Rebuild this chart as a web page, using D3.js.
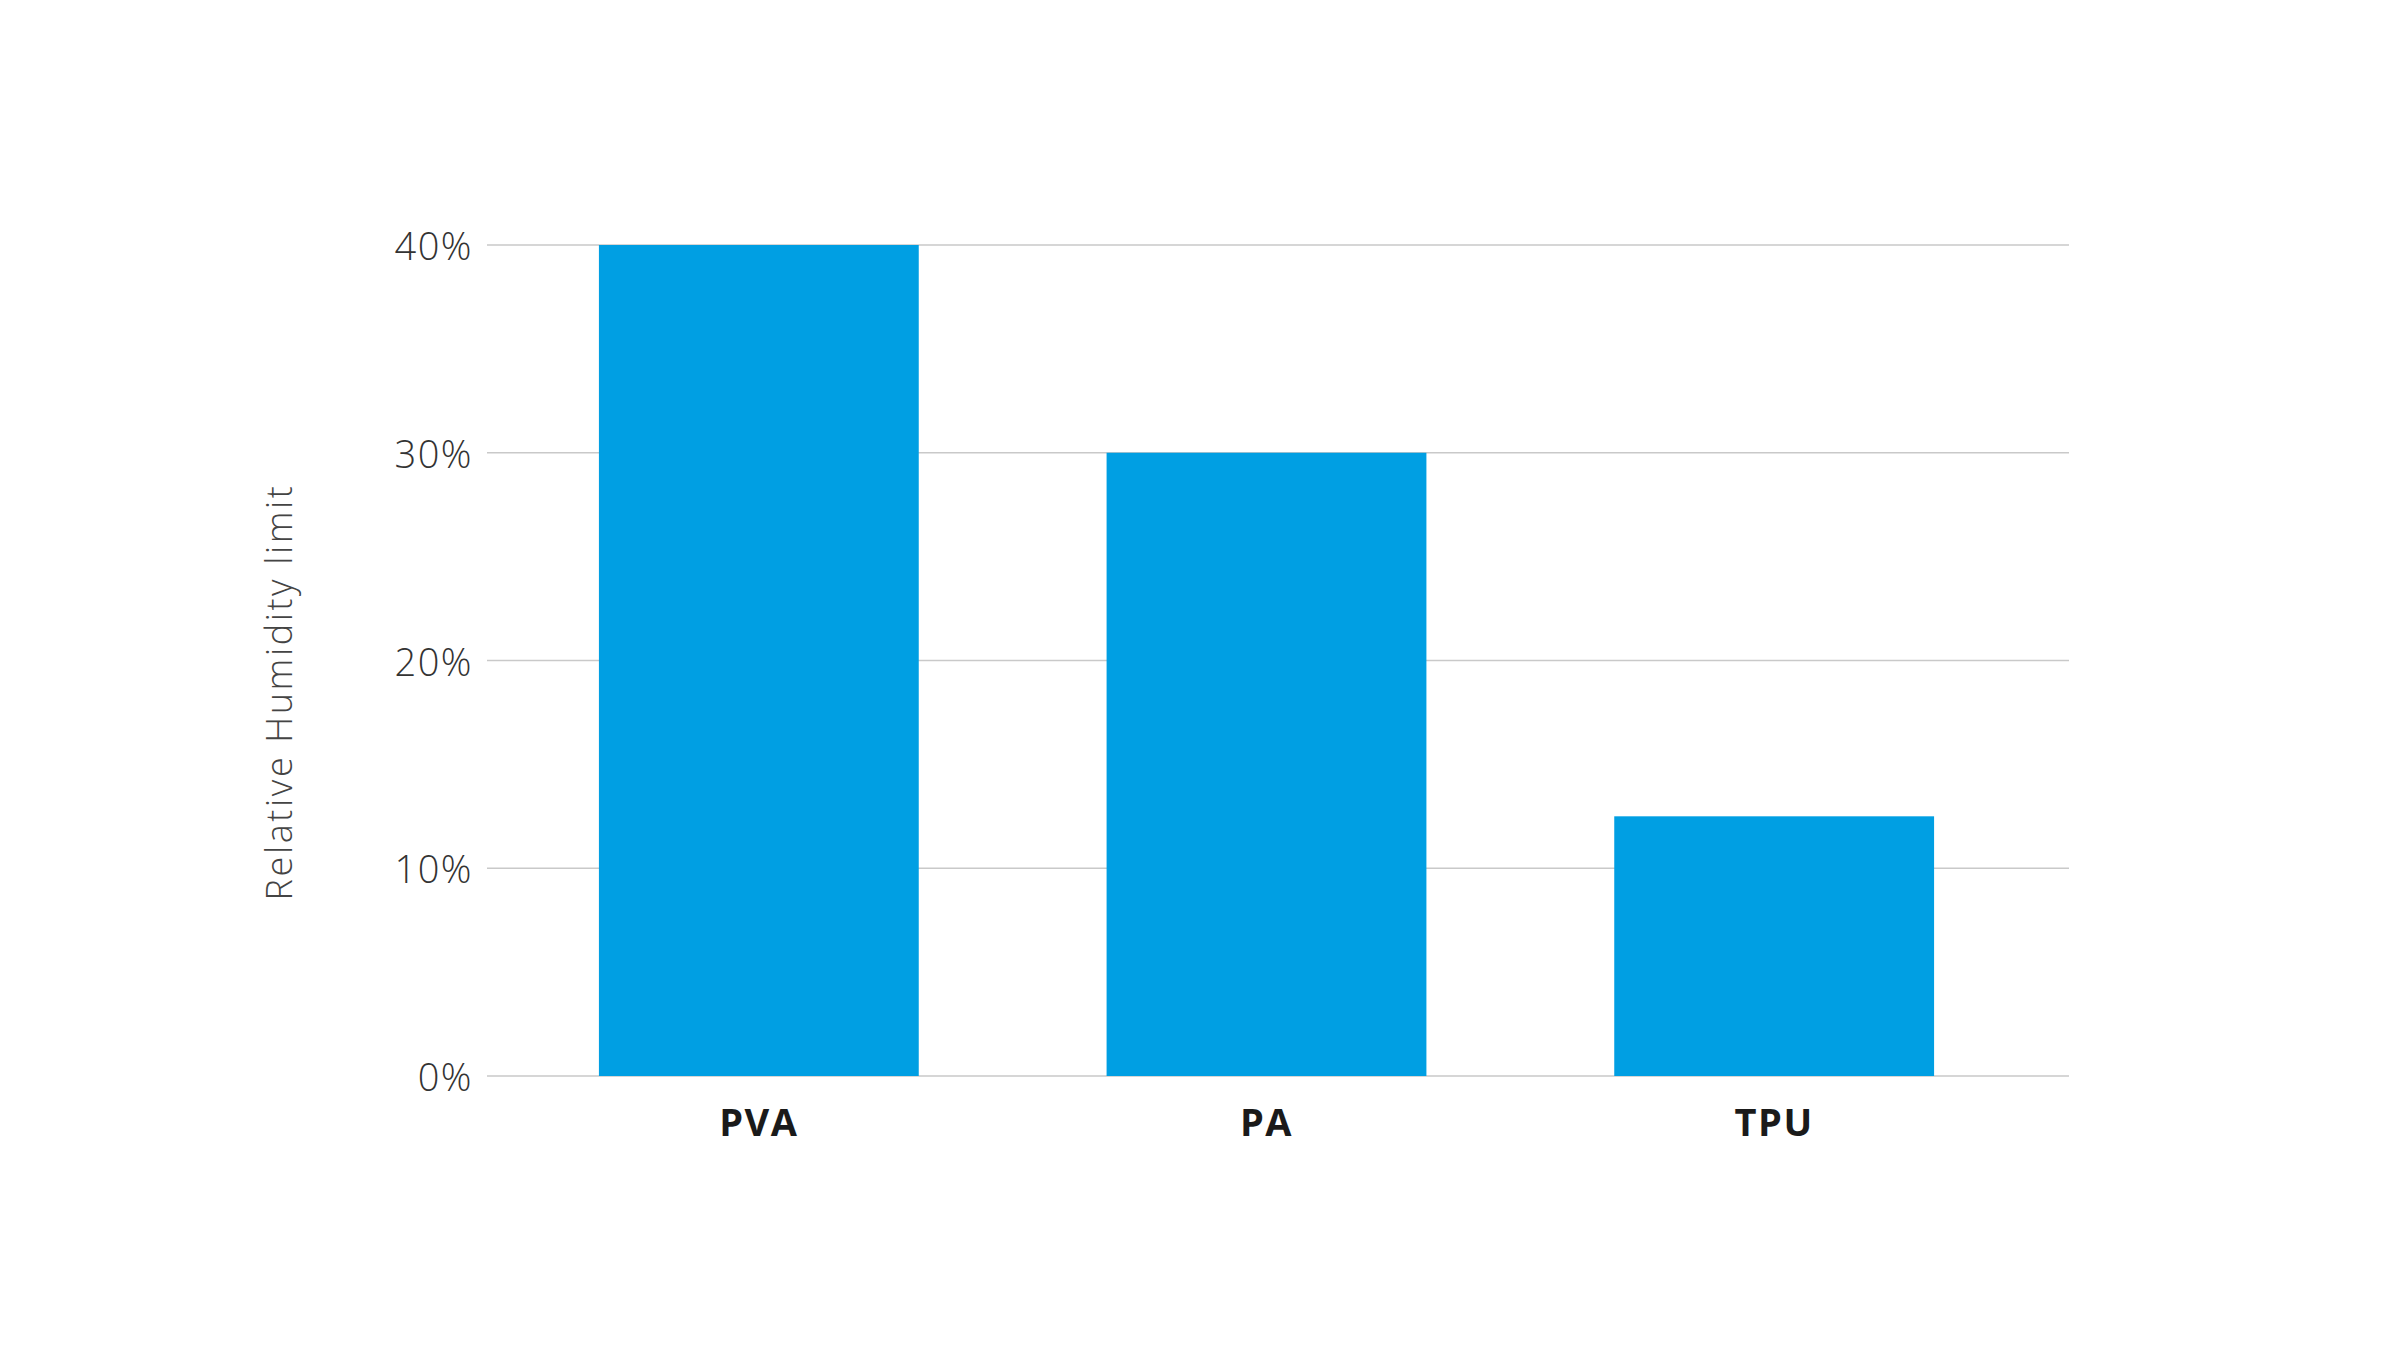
<!DOCTYPE html>
<html><head><meta charset="utf-8">
<script src="https://cdn.jsdelivr.net/npm/d3@7"></script>
<style>
html,body{margin:0;padding:0;background:#fff;}
svg{display:block;}
</style></head>
<body>
<script>
const categories = ["PVA", "PA", "TPU"];
const values = [40, 30, 12.5];
const yTicks = [0, 10, 20, 30, 40];
const yTickLabels = ["0%", "10%", "20%", "30%", "40%"];
const yTitle = "Relative Humidity limit";

const W = 2400, H = 1349;
const svg = d3.select("body").append("svg").attr("width", W).attr("height", H);

const y = d3.scaleLinear().domain([0, 40]).range([1076, 245]);
const x = d3.scaleBand().domain(categories).range([505, 2028]).paddingInner(0.37).paddingOuter(0.185);
const gridX0 = 487, gridX1 = 2069;

// gridlines
svg.append("g").selectAll("line").data(yTicks).join("line")
  .attr("x1", gridX0).attr("x2", gridX1)
  .attr("y1", d => y(d)).attr("y2", d => y(d))
  .attr("stroke", "#c9c9c9").attr("stroke-width", 1.5);

// y tick labels
svg.append("g").selectAll("text").data(yTicks).join("text")
  .attr("x", 473).attr("y", d => y(d))
  .attr("text-anchor", "end").attr("dominant-baseline", "central")
  .attr("font-family", "'Open Sans', sans-serif").attr("font-weight", 300)
  .attr("font-size", 38).attr("letter-spacing", 1.5).attr("fill", "#333")
  .text((d, i) => yTickLabels[i]);

// bars
svg.append("g").selectAll("rect").data(categories).join("rect")
  .attr("x", d => x(d)).attr("width", x.bandwidth())
  .attr("y", (d, i) => y(values[i]))
  .attr("height", (d, i) => y(0) - y(values[i]))
  .attr("fill", "#009fe3");

// x labels
svg.append("g").selectAll("text").data(categories).join("text")
  .attr("x", d => x(d) + x.bandwidth() / 2).attr("y", 1136)
  .attr("text-anchor", "middle")
  .attr("font-family", "'Open Sans', sans-serif").attr("font-weight", 700)
  .attr("font-size", 38).attr("letter-spacing", 1.5).attr("fill", "#1a1a1a")
  .text(d => d);

// y title
svg.append("text")
  .attr("transform", "translate(292,692) rotate(-90)")
  .attr("text-anchor", "middle")
  .attr("font-family", "'Open Sans', sans-serif").attr("font-weight", 300)
  .attr("font-size", 36).attr("letter-spacing", 2.6).attr("fill", "#444")
  .text(yTitle);
</script>
</body></html>
